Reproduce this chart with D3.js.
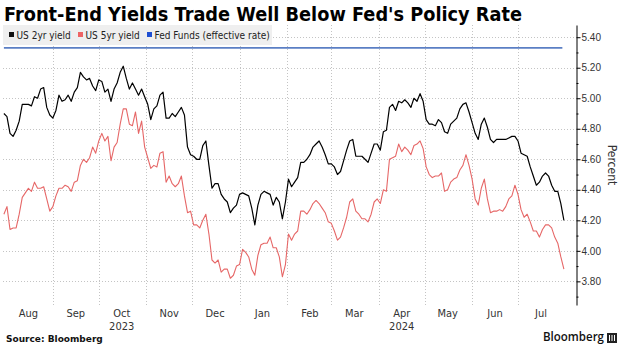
<!DOCTYPE html>
<html>
<head>
<meta charset="utf-8">
<script src="https://cdn.jsdelivr.net/npm/d3@7"></script>
<style>
  body { margin: 0; background: #fff; }
  svg { display: block; font-family: "DejaVu Sans Condensed", "DejaVu Sans", sans-serif; }
  .grid line { stroke: #c4c4c4; stroke-dasharray: 1,2; }
  .axis text { fill: #333; }
</style>
</head>
<body>
<svg width="623" height="347"></svg>
<script>
// yields sampled every other calendar day from 31 Jul 2023
var startDay = new Date(2023, 6, 31);
var endDay = new Date(2024, 6, 31);
var stepDays = 2;

var us2yr = [4.90,4.88,4.77,4.75,4.79,4.85,4.96,4.96,4.96,4.95,
  5.01,5.00,5.06,5.07,4.94,4.89,4.87,4.92,5.02,4.98,
  4.99,5.02,4.98,5.04,5.07,5.17,5.14,5.12,5.13,5.08,
  5.05,5.12,5.11,5.04,5.06,4.98,5.06,5.10,5.17,5.21,
  5.13,5.06,5.10,5.06,5.02,5.06,5.01,4.96,4.86,4.93,
  4.95,5.02,5.04,4.87,4.87,4.90,4.88,4.91,4.94,4.89,
  4.68,4.63,4.62,4.60,4.60,4.69,4.72,4.56,4.41,4.44,
  4.44,4.37,4.34,4.32,4.25,4.28,4.30,4.37,4.38,4.37,
  4.36,4.28,4.17,4.30,4.37,4.39,4.38,4.37,4.30,4.35,
  4.32,4.21,4.32,4.47,4.42,4.45,4.48,4.58,4.58,4.60,
  4.63,4.68,4.70,4.72,4.68,4.63,4.57,4.57,4.55,4.50,
  4.52,4.59,4.66,4.72,4.73,4.62,4.62,4.62,4.60,4.58,
  4.64,4.70,4.70,4.66,4.78,4.79,4.94,4.96,4.92,4.98,
  4.97,4.99,4.97,4.94,5.00,4.98,5.03,4.98,4.86,4.83,
  4.83,4.82,4.86,4.84,4.78,4.77,4.83,4.85,4.87,4.93,
  4.96,4.97,4.91,4.84,4.77,4.73,4.83,4.87,4.81,4.73,
  4.71,4.73,4.73,4.73,4.73,4.74,4.75,4.75,4.72,4.64,
  4.63,4.62,4.55,4.49,4.43,4.45,4.49,4.51,4.49,4.43,
  4.39,4.39,4.31,4.20];

var us5yr = [4.24,4.29,4.14,4.15,4.15,4.24,4.35,4.38,4.41,4.39,
  4.45,4.41,4.41,4.42,4.34,4.26,4.29,4.36,4.41,4.41,
  4.43,4.42,4.39,4.45,4.46,4.56,4.60,4.58,4.61,4.68,
  4.64,4.72,4.77,4.72,4.75,4.59,4.68,4.71,4.83,4.93,
  4.93,4.83,4.82,4.91,4.77,4.85,4.68,4.61,4.54,4.56,
  4.55,4.64,4.65,4.45,4.49,4.44,4.42,4.44,4.49,4.36,
  4.25,4.26,4.17,4.17,4.15,4.20,4.24,4.11,3.94,3.92,
  3.94,3.86,3.88,3.88,3.82,3.84,3.90,3.91,4.01,3.99,
  3.96,3.88,3.84,3.97,4.04,4.05,4.05,4.09,4.02,4.02,
  3.96,3.83,3.91,4.11,4.07,4.11,4.13,4.26,4.26,4.24,
  4.27,4.31,4.33,4.31,4.28,4.25,4.19,4.18,4.13,4.07,
  4.09,4.15,4.22,4.32,4.34,4.26,4.24,4.21,4.21,4.19,
  4.24,4.32,4.34,4.31,4.40,4.39,4.60,4.61,4.62,4.70,
  4.65,4.68,4.66,4.63,4.69,4.70,4.72,4.67,4.55,4.50,
  4.48,4.49,4.49,4.51,4.39,4.40,4.45,4.47,4.48,4.53,
  4.56,4.63,4.56,4.47,4.34,4.30,4.41,4.47,4.34,4.25,
  4.26,4.26,4.27,4.26,4.29,4.34,4.36,4.43,4.37,4.27,
  4.22,4.24,4.19,4.13,4.13,4.09,4.14,4.17,4.17,4.15,
  4.09,4.05,3.96,3.88];

var fedDates = ["2023-07-31", "2024-07-30"];
var fedFunds = [5.33, 5.33];

var monthLabels = ["Aug", "Sep", "Oct", "Nov", "Dec", "Jan", "Feb", "Mar", "Apr", "May", "Jun", "Jul"];
var yearLabels = ["2023", "2024"];
var yearUnder = ["Oct", "Apr"];
var yTicks = [3.8, 4.0, 4.2, 4.4, 4.6, 4.8, 5.0, 5.2, 5.4];
var yMinorTicks = [3.7, 3.9, 4.1, 4.3, 4.5, 4.7, 4.9, 5.1, 5.3];

var legendNames = ["US 2yr yield", "US 5yr yield", "Fed Funds (effective rate)"];
var legendColors = ["#111111", "#ee6464", "#1f4fd2"];

var svg = d3.select("svg");
var frame = {left: 3, right: 576, top: 25, bottom: 305};

var parseDay = d3.timeParse("%Y-%m-%d");
var dates = us2yr.map(function(d, i) { return d3.timeDay.offset(startDay, i * stepDays); });

var x = d3.scaleTime().domain([startDay, endDay]).range([3.9, 563.9]);
var y = d3.scaleLinear().domain([3.645, 5.48]).range([frame.bottom, frame.top]);

/* Titel */
svg.append("text")
    .attr("x", 4)
    .attr("y", 21)
    .attr("font-family", "DejaVu Sans, sans-serif")
    .attr("font-weight", "bold")
    .attr("font-size", 19)
    .attr("textLength", 518)
    .attr("lengthAdjust", "spacingAndGlyphs")
    .attr("fill", "#000")
    .text("Front-End Yields Trade Well Below Fed's Policy Rate");

/* Horizontale hulplijnen */
svg.append("g")
    .attr("class", "grid")
  .selectAll("line")
  .data(yTicks)
  .enter().append("line")
    .attr("x1", frame.left)
    .attr("x2", frame.right)
    .attr("y1", function(d) { return Math.round(y(d)) + 0.5; })
    .attr("y2", function(d) { return Math.round(y(d)) + 0.5; });

/* Verticale hulplijnen bij het begin van elke maand */
var monthStarts = d3.timeMonth.range(new Date(2023, 8, 1), endDay);
svg.append("g")
    .attr("class", "grid")
  .selectAll("line")
  .data(monthStarts)
  .enter().append("line")
    .attr("x1", function(d) { return Math.round(x(d)) + 0.5; })
    .attr("x2", function(d) { return Math.round(x(d)) + 0.5; })
    .attr("y1", frame.top)
    .attr("y2", frame.bottom);

/* Legenda */
svg.append("rect")
    .attr("x", 3)
    .attr("y", 25)
    .attr("width", 269)
    .attr("height", 20)
    .attr("fill", "#efefef");

var legendX = [9, 78, 147];
var legend = svg.append("g")
  .selectAll("g")
  .data(legendNames)
  .enter().append("g")
    .attr("transform", function(d, i) { return "translate(" + legendX[i] + ",32)"; });

legend.append("rect")
    .attr("width", 5)
    .attr("height", 5)
    .attr("fill", function(d, i) { return legendColors[i]; });

legend.append("text")
    .attr("x", 7.5)
    .attr("y", 7)
    .attr("font-size", 10)
    .attr("fill", "#222")
    .text(function(d) { return d; });

/* De lijnen */
var line = d3.line()
    .x(function(d) { return x(d.date); })
    .y(function(d) { return y(d.value); });

var fedSeries = fedDates.map(function(d, i) { return {date: parseDay(d), value: fedFunds[i]}; });
var series5 = dates.map(function(d, i) { return {date: d, value: us5yr[i]}; });
var series2 = dates.map(function(d, i) { return {date: d, value: us2yr[i]}; });

svg.append("path")
    .datum(fedSeries)
    .attr("fill", "none")
    .attr("stroke", "#5b7fc4")
    .attr("stroke-width", 1.6)
    .attr("d", line);

svg.append("path")
    .datum(series5)
    .attr("fill", "none")
    .attr("stroke", "#e66767")
    .attr("stroke-width", 1.1)
    .attr("stroke-linejoin", "round")
    .attr("d", line);

svg.append("path")
    .datum(series2)
    .attr("fill", "none")
    .attr("stroke", "#000")
    .attr("stroke-width", 1.2)
    .attr("stroke-linejoin", "round")
    .attr("d", line);

/* De y-as rechts */
svg.append("g")
    .attr("class", "axis")
    .attr("transform", "translate(" + (frame.right + 0.5) + ",0)")
    .call(d3.axisRight(y).tickValues(yMinorTicks).tickSize(2).tickSizeOuter(0).tickFormat(""))
    .call(function(g) { g.select(".domain").attr("stroke", "#000"); });

svg.append("g")
    .attr("class", "axis")
    .attr("transform", "translate(" + (frame.right + 0.5) + ",0)")
    .attr("font-family", null)
    .attr("font-size", 10.5)
    .call(d3.axisRight(y).tickValues(yTicks).tickSize(4).tickSizeOuter(0).tickPadding(1).tickFormat(d3.format(".2f")))
    .call(function(g) { g.select(".domain").remove(); });

svg.append("text")
    .attr("transform", "translate(612,165) rotate(90)")
    .attr("text-anchor", "middle")
    .attr("dy", "0.35em")
    .attr("font-size", 12)
    .attr("fill", "#333")
    .text("Percent");

/* De x-as: maandnamen midden in de maand */
var monthMid = monthLabels.map(function(d, i) { return d3.timeDay.offset(d3.timeMonth.offset(new Date(2023, 7, 1), i), 15); });

svg.append("g")
    .attr("class", "axis")
  .selectAll("text")
  .data(monthLabels)
  .enter().append("text")
    .attr("x", function(d, i) { return x(monthMid[i]); })
    .attr("y", 317)
    .attr("text-anchor", "middle")
    .attr("font-size", 11)
    .text(function(d) { return d; });

svg.append("g")
    .attr("class", "axis")
  .selectAll("text")
  .data(yearLabels)
  .enter().append("text")
    .attr("x", function(d, i) { return x(monthMid[monthLabels.indexOf(yearUnder[i])]); })
    .attr("y", 329.5)
    .attr("text-anchor", "middle")
    .attr("font-size", 11)
    .text(function(d) { return d; });

/* Bron en logo */
svg.append("text")
    .attr("x", 6)
    .attr("y", 342)
    .attr("font-family", "DejaVu Sans, sans-serif")
    .attr("font-weight", "bold")
    .attr("font-size", 9)
    .attr("fill", "#111")
    .text("Source: Bloomberg");

svg.append("text")
    .attr("x", 543)
    .attr("y", 341)
    .attr("font-family", "Open Sans, sans-serif")
    .attr("font-weight", 600)
    .attr("font-size", 12.5)
    .attr("textLength", 61)
    .attr("lengthAdjust", "spacingAndGlyphs")
    .attr("fill", "#111")
    .text("Bloomberg");

var logo = svg.append("g").attr("transform", "translate(607,333)");
logo.append("rect").attr("width", 10).attr("height", 10).attr("fill", "#222");
logo.selectAll("line")
  .data([2.5, 5, 7.5])
  .enter().append("line")
    .attr("x1", function(d) { return d; })
    .attr("x2", function(d) { return d; })
    .attr("y1", 2)
    .attr("y2", 8)
    .attr("stroke", "#fff")
    .attr("stroke-width", 1);
</script>
</body>
</html>
